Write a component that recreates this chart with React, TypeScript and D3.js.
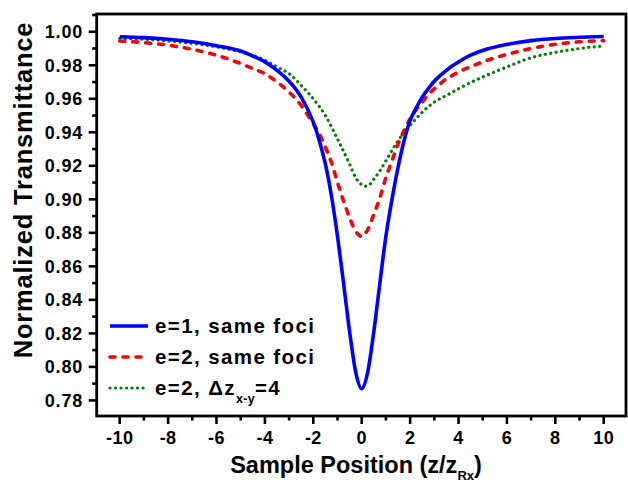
import React from "react";
import * as d3 from "d3";

const zGrid = [-10, -9, -8, -7, -6, -5, -4.5, -4, -3.5, -3, -2.5, -2, -1.75, -1.5, -1.25, -1, -0.75, -0.5, -0.25, 0, 0.25, 0.5, 0.75, 1, 1.25, 1.5, 1.75, 2, 2.25, 2.5, 2.75, 3, 3.25, 3.5, 3.75, 4, 4.5, 5, 6, 7, 8, 9, 10];
const blueT = [0.997, 0.9965, 0.9955, 0.994, 0.9917, 0.9885, 0.9855, 0.982, 0.977, 0.9705, 0.961, 0.946, 0.935, 0.921, 0.902, 0.878, 0.85, 0.821, 0.797, 0.787, 0.797, 0.821, 0.85, 0.878, 0.9, 0.919, 0.935, 0.947, 0.9545, 0.961, 0.966, 0.9705, 0.974, 0.977, 0.9797, 0.982, 0.986, 0.9888, 0.9924, 0.9947, 0.996, 0.9967, 0.9972];
const redT = [0.9945, 0.9935, 0.992, 0.9895, 0.986, 0.981, 0.978, 0.975, 0.97, 0.964, 0.956, 0.945, 0.939, 0.931, 0.922, 0.91, 0.899, 0.889, 0.881, 0.8778, 0.882, 0.891, 0.901, 0.913, 0.923, 0.933, 0.941, 0.948, 0.9535, 0.958, 0.9625, 0.966, 0.969, 0.972, 0.974, 0.976, 0.9792, 0.982, 0.9865, 0.99, 0.9925, 0.994, 0.9947];
const zGreen = [-10, -9, -8, -7, -6, -5, -4, -3.5, -3, -2.5, -2, -1.5, -1, -0.5, -0.25, 0, 0.15, 0.3, 0.5, 0.75, 1, 1.5, 2, 2.5, 3, 3.5, 4, 5, 6, 7, 8, 9, 10];
const greenT = [0.996, 0.9955, 0.9945, 0.993, 0.991, 0.988, 0.983, 0.979, 0.975, 0.968, 0.96, 0.95, 0.936, 0.921, 0.913, 0.9088, 0.9079, 0.9085, 0.912, 0.917, 0.923, 0.935, 0.944, 0.952, 0.958, 0.962, 0.966, 0.973, 0.979, 0.9845, 0.9877, 0.99, 0.9915];

const xMajor = [-10, -8, -6, -4, -2, 0, 2, 4, 6, 8, 10];
const xMinor = [-9, -7, -5, -3, -1, 1, 3, 5, 7, 9];
const yMajor = [0.78, 0.8, 0.82, 0.84, 0.86, 0.88, 0.9, 0.92, 0.94, 0.96, 0.98, 1.0];
const yMinor = [0.79, 0.81, 0.83, 0.85, 0.87, 0.89, 0.91, 0.93, 0.95, 0.97, 0.99, 1.01];

const FONT = "'Liberation Sans', Arial, sans-serif";

export default function App() {
  const L = 96.7, R = 626, T = 14, B = 416;
  const x = d3.scaleLinear().domain([-10.95, 10.92]).range([L, R]);
  const y = d3.scaleLinear().domain([0.7707, 1.0106]).range([B, T]);
  const line = d3.line<[number, number]>().x(d => x(d[0])).y(d => y(d[1])).curve(d3.curveMonotoneX);
  const blue = line(zGrid.map((z, i) => [z, blueT[i]]));
  const red = line(zGrid.map((z, i) => [z, redT[i]]));
  const green = line(zGreen.map((z, i) => [z, greenT[i]]));

  const legendRows = [
    { y: 326, color: "#0000ff", dash: undefined, cap: "butt" },
    { y: 357, color: "#ff0000", dash: "5 8", cap: "round" },
    { y: 388, color: "#008000", dash: "0.1 5.4", cap: "round" },
  ];

  return (
    <svg width={628} height={482} style={{ position: "absolute", left: 0, top: 0, background: "#fff" }}>
      <rect x={0} y={0} width={628} height={482} fill="#fff" />
      <g fill="none" strokeLinejoin="round">
        <path d={green!} stroke="#008000" strokeWidth={3.2} strokeDasharray="0.1 5.4" strokeLinecap="round" />
        <path d={red!} stroke="#ff0000" strokeWidth={3.6} strokeDasharray="5 8" strokeLinecap="round" />
        <path d={blue!} stroke="#0000ff" strokeWidth={3.6} />
      </g>
      <rect x={L} y={T} width={R - L} height={B - T} fill="none" stroke="#000" strokeWidth={2.8} />
      <g stroke="#000" strokeWidth={2.6}>
        {xMajor.map(v => <line key={"xM" + v} x1={x(v)} x2={x(v)} y1={B} y2={B + 8} />)}
        {xMinor.map(v => <line key={"xm" + v} x1={x(v)} x2={x(v)} y1={B} y2={B + 4.5} />)}
        {yMajor.map(v => <line key={"yM" + v} x1={L} x2={L - 8} y1={y(v)} y2={y(v)} />)}
        {yMinor.map(v => <line key={"ym" + v} x1={L} x2={L - 4.5} y1={y(v)} y2={y(v)} />)}
      </g>
      <g fontFamily={FONT} fontWeight="bold" fontSize={18} fill="#000">
        {xMajor.map(v => (
          <text key={"xl" + v} x={x(v)} y={444} textAnchor="middle" letterSpacing={0.4}>{String(v)}</text>
        ))}
        {yMajor.map(v => (
          <text key={"yl" + v} x={83} y={y(v) + 6.5} textAnchor="end" letterSpacing={0.8}>{v.toFixed(2)}</text>
        ))}
      </g>
      <text x={356} y={473} textAnchor="middle" fontFamily={FONT} fontWeight="bold" fontSize={23.5} fill="#000">
        Sample Position (z/z<tspan fontSize={13} dy={7}>Rx</tspan><tspan dy={-7}>)</tspan>
      </text>
      <text transform="translate(32,190) rotate(-90)" textAnchor="middle" fontFamily={FONT} fontWeight="bold" fontSize={25.5} letterSpacing={0.8} fill="#000">
        Normalized Transmittance
      </text>
      <g>
        {legendRows.map(r => (
          <line key={"lg" + r.y} x1={110} x2={148} y1={r.y} y2={r.y} stroke={r.color} strokeWidth={r.color === "#008000" ? 3.2 : 3.6} strokeDasharray={r.dash} strokeLinecap={r.cap as any} />
        ))}
      </g>
      <g fontFamily={FONT} fontWeight="bold" fontSize={20.5} fill="#000" letterSpacing={1.4}>
        <text x={155} y={333}>e=1, same foci</text>
        <text x={155} y={364}>e=2, same foci</text>
        <text x={155} y={395}>e=2, Δz<tspan fontSize={12.5} dy={8} letterSpacing={0.3}>x-y</tspan><tspan dy={-8}>=4</tspan></text>
      </g>
    </svg>
  );
}
